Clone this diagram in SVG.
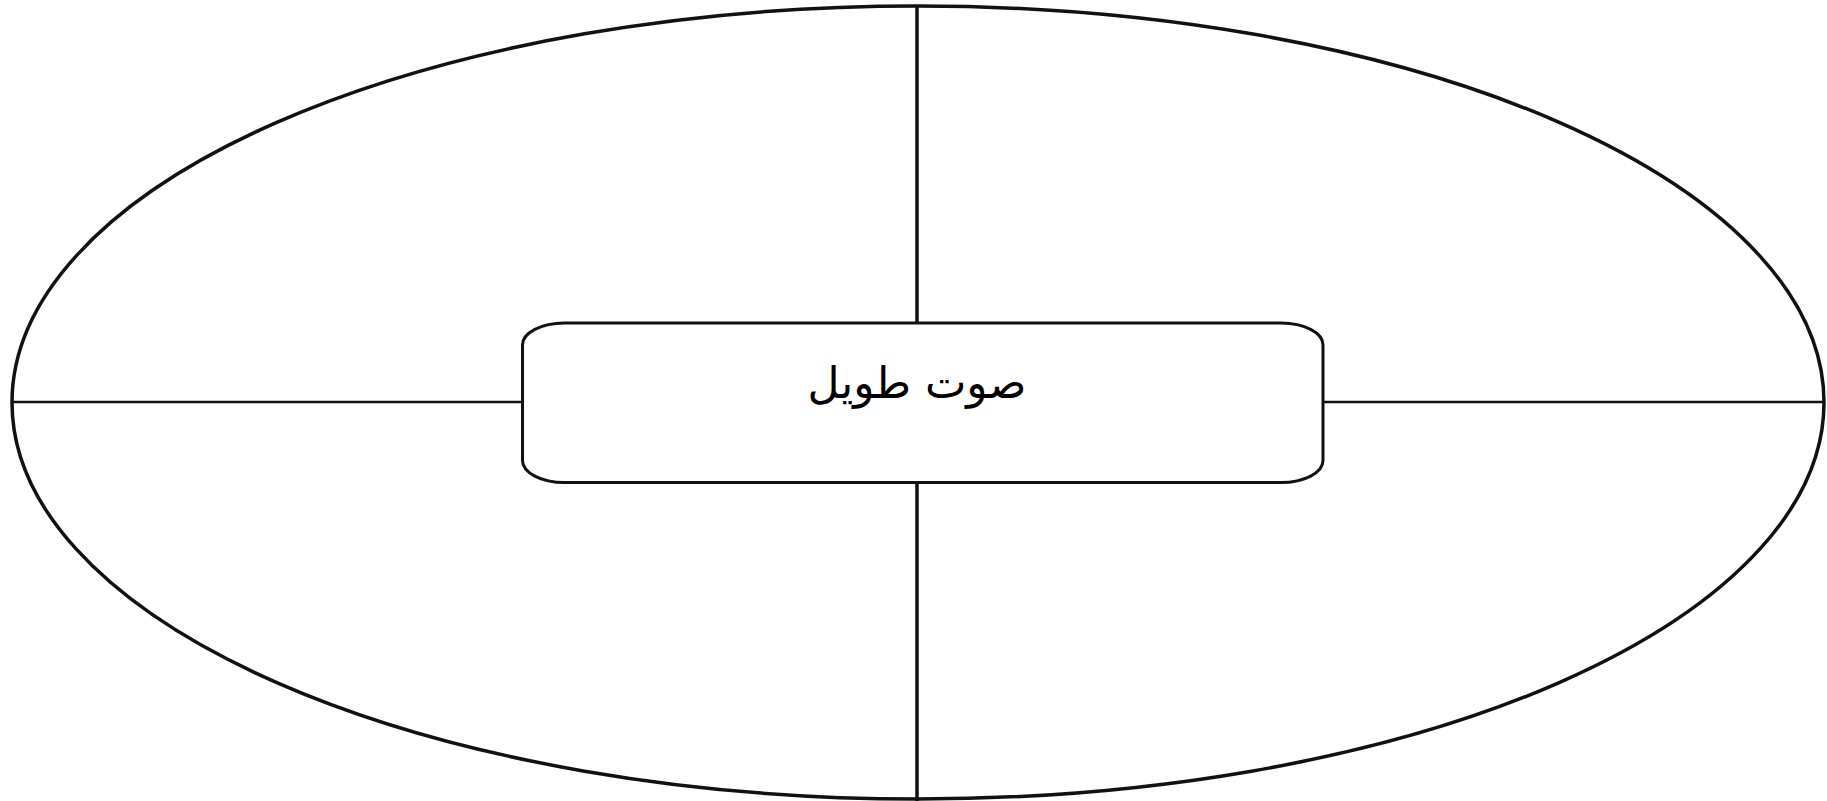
<svg xmlns="http://www.w3.org/2000/svg" width="1827" height="801" viewBox="0 0 1827 801">
<style>
.outline{fill:none;stroke:#111111;stroke-width:3.5}
.conn{stroke:#111111;fill:none}
.box{fill:#ffffff;stroke:#111111;stroke-width:3}
.label{font-family:"DejaVu Sans",sans-serif;font-size:44px;fill:#000000}
</style>
<rect width="1827" height="801" fill="#ffffff"/>
<g id="outer">
<ellipse class="outline" cx="918" cy="402.5" rx="906" ry="396.5"/>
</g>
<g id="connectors">
<line class="conn" stroke-width="3.5" x1="917" y1="6" x2="917" y2="323"/>
<line class="conn" stroke-width="3.5" x1="917" y1="483" x2="917" y2="801"/>
<line class="conn" stroke-width="2.5" x1="12" y1="402" x2="522" y2="402"/>
<line class="conn" stroke-width="2.5" x1="1323" y1="402" x2="1825" y2="402"/>
</g>
<g id="center">
<rect class="box" x="522.5" y="323" width="800.5" height="159.5" rx="42" ry="22"/>
<text class="label" x="917" y="398" text-anchor="middle" direction="rtl">صوت طويل</text>
</g>
</svg>
